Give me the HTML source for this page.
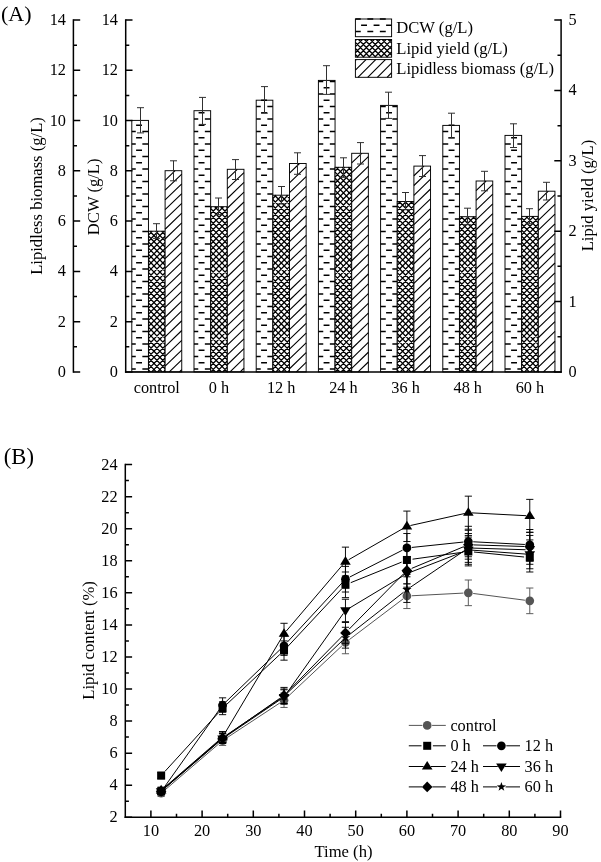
<!DOCTYPE html>
<html><head><meta charset="utf-8"><title>Figure</title>
<style>
html,body{margin:0;padding:0;background:#fff;}
svg{display:block;will-change:transform;}
text{font-family:"Liberation Serif",serif;font-size:16.3px;fill:#000;}
</style></head>
<body>
<svg width="601" height="862" viewBox="0 0 601 862">
<rect width="601" height="862" fill="#fff"/>
<g id="panelA">
<rect x="131.80" y="120.40" width="16.65" height="251.50" fill="#fff"/>
<path d="M136.10 125.23H142.00M136.10 137.73H142.00M136.10 150.23H142.00M136.10 162.73H142.00M136.10 175.23H142.00M136.10 187.73H142.00M136.10 200.23H142.00M136.10 212.73H142.00M136.10 225.23H142.00M136.10 237.73H142.00M136.10 250.23H142.00M136.10 262.73H142.00M136.10 275.23H142.00M136.10 287.73H142.00M136.10 300.23H142.00M136.10 312.73H142.00M136.10 325.23H142.00M136.10 337.73H142.00M136.10 350.23H142.00M136.10 362.73H142.00M131.80 131.43H135.75M142.35 131.43H148.25M131.80 143.93H135.75M142.35 143.93H148.25M131.80 156.43H135.75M142.35 156.43H148.25M131.80 168.93H135.75M142.35 168.93H148.25M131.80 181.43H135.75M142.35 181.43H148.25M131.80 193.93H135.75M142.35 193.93H148.25M131.80 206.43H135.75M142.35 206.43H148.25M131.80 218.93H135.75M142.35 218.93H148.25M131.80 231.43H135.75M142.35 231.43H148.25M131.80 243.93H135.75M142.35 243.93H148.25M131.80 256.43H135.75M142.35 256.43H148.25M131.80 268.93H135.75M142.35 268.93H148.25M131.80 281.43H135.75M142.35 281.43H148.25M131.80 293.93H135.75M142.35 293.93H148.25M131.80 306.43H135.75M142.35 306.43H148.25M131.80 318.93H135.75M142.35 318.93H148.25M131.80 331.43H135.75M142.35 331.43H148.25M131.80 343.93H135.75M142.35 343.93H148.25M131.80 356.43H135.75M142.35 356.43H148.25M131.80 368.93H135.75M142.35 368.93H148.25" stroke="#000" stroke-width="1.45" fill="none"/>
<rect x="131.80" y="120.40" width="16.65" height="251.50" fill="none" stroke="#000" stroke-width="0.95"/>
<rect x="148.45" y="231.20" width="16.65" height="140.70" fill="#fff"/>
<path d="M148.45 235.11L152.25 231.20M148.45 241.20L158.17 231.20M148.45 247.29L164.09 231.20M148.45 253.38L165.10 236.26M148.45 259.47L165.10 242.35M148.45 265.56L165.10 248.44M148.45 271.65L165.10 254.53M148.45 277.74L165.10 260.62M148.45 283.83L165.10 266.71M148.45 289.92L165.10 272.80M148.45 296.01L165.10 278.89M148.45 302.10L165.10 284.98M148.45 308.19L165.10 291.07M148.45 314.28L165.10 297.16M148.45 320.37L165.10 303.25M148.45 326.46L165.10 309.34M148.45 332.55L165.10 315.43M148.45 338.64L165.10 321.52M148.45 344.73L165.10 327.61M148.45 350.82L165.10 333.70M148.45 356.91L165.10 339.79M148.45 363.00L165.10 345.88M148.45 369.09L165.10 351.97M151.64 371.90L165.10 358.06M157.56 371.90L165.10 364.15M163.48 371.90L165.10 370.24M148.45 369.92L150.38 371.90M148.45 363.83L156.30 371.90M148.45 357.74L162.22 371.90M148.45 351.65L165.10 368.77M148.45 345.56L165.10 362.68M148.45 339.47L165.10 356.59M148.45 333.38L165.10 350.50M148.45 327.29L165.10 344.41M148.45 321.20L165.10 338.32M148.45 315.11L165.10 332.23M148.45 309.02L165.10 326.14M148.45 302.93L165.10 320.05M148.45 296.84L165.10 313.96M148.45 290.75L165.10 307.87M148.45 284.66L165.10 301.78M148.45 278.57L165.10 295.69M148.45 272.48L165.10 289.60M148.45 266.39L165.10 283.51M148.45 260.30L165.10 277.42M148.45 254.21L165.10 271.33M148.45 248.12L165.10 265.24M148.45 242.03L165.10 259.15M148.45 235.94L165.10 253.06M149.77 231.20L165.10 246.97M155.69 231.20L165.10 240.88M161.61 231.20L165.10 234.79" stroke="#000" stroke-width="1.3" fill="none"/>
<rect x="148.45" y="231.20" width="16.65" height="140.70" fill="none" stroke="#000" stroke-width="0.95"/>
<rect x="165.10" y="170.70" width="16.65" height="201.20" fill="#fff"/>
<path d="M165.10 180.33L175.08 170.70M165.10 190.11L181.75 174.04M165.10 199.89L181.75 183.82M165.10 209.67L181.75 193.60M165.10 219.45L181.75 203.38M165.10 229.23L181.75 213.16M165.10 239.01L181.75 222.94M165.10 248.79L181.75 232.72M165.10 258.57L181.75 242.50M165.10 268.35L181.75 252.28M165.10 278.13L181.75 262.06M165.10 287.91L181.75 271.84M165.10 297.69L181.75 281.62M165.10 307.47L181.75 291.40M165.10 317.25L181.75 301.18M165.10 327.03L181.75 310.96M165.10 336.81L181.75 320.74M165.10 346.59L181.75 330.52M165.10 356.37L181.75 340.30M165.10 366.15L181.75 350.08M169.28 371.90L181.75 359.86M179.41 371.90L181.75 369.64" stroke="#000" stroke-width="1.12" fill="none"/>
<rect x="165.10" y="170.70" width="16.65" height="201.20" fill="none" stroke="#000" stroke-width="0.95"/>
<path d="M140.50 107.70V132.90M137.00 107.70H144.00M137.00 132.90H144.00" stroke="#303030" stroke-width="1.0" fill="none"/>
<path d="M156.50 223.70V238.40M153.00 223.70H160.00M153.00 238.40H160.00" stroke="#303030" stroke-width="1.0" fill="none"/>
<path d="M173.50 160.80V180.80M170.00 160.80H177.00M170.00 180.80H177.00" stroke="#303030" stroke-width="1.0" fill="none"/>
<rect x="194.00" y="110.70" width="16.65" height="261.20" fill="#fff"/>
<path d="M198.60 112.73H204.50M198.60 125.23H204.50M198.60 137.73H204.50M198.60 150.23H204.50M198.60 162.73H204.50M198.60 175.23H204.50M198.60 187.73H204.50M198.60 200.23H204.50M198.60 212.73H204.50M198.60 225.23H204.50M198.60 237.73H204.50M198.60 250.23H204.50M198.60 262.73H204.50M198.60 275.23H204.50M198.60 287.73H204.50M198.60 300.23H204.50M198.60 312.73H204.50M198.60 325.23H204.50M198.60 337.73H204.50M198.60 350.23H204.50M198.60 362.73H204.50M194.00 118.93H198.25M204.85 118.93H210.65M194.00 131.43H198.25M204.85 131.43H210.65M194.00 143.93H198.25M204.85 143.93H210.65M194.00 156.43H198.25M204.85 156.43H210.65M194.00 168.93H198.25M204.85 168.93H210.65M194.00 181.43H198.25M204.85 181.43H210.65M194.00 193.93H198.25M204.85 193.93H210.65M194.00 206.43H198.25M204.85 206.43H210.65M194.00 218.93H198.25M204.85 218.93H210.65M194.00 231.43H198.25M204.85 231.43H210.65M194.00 243.93H198.25M204.85 243.93H210.65M194.00 256.43H198.25M204.85 256.43H210.65M194.00 268.93H198.25M204.85 268.93H210.65M194.00 281.43H198.25M204.85 281.43H210.65M194.00 293.93H198.25M204.85 293.93H210.65M194.00 306.43H198.25M204.85 306.43H210.65M194.00 318.93H198.25M204.85 318.93H210.65M194.00 331.43H198.25M204.85 331.43H210.65M194.00 343.93H198.25M204.85 343.93H210.65M194.00 356.43H198.25M204.85 356.43H210.65M194.00 368.93H198.25M204.85 368.93H210.65" stroke="#000" stroke-width="1.45" fill="none"/>
<rect x="194.00" y="110.70" width="16.65" height="261.20" fill="none" stroke="#000" stroke-width="0.95"/>
<rect x="210.65" y="206.70" width="16.65" height="165.20" fill="#fff"/>
<path d="M210.65 207.67L211.59 206.70M210.65 213.76L217.51 206.70M210.65 219.85L223.43 206.70M210.65 225.94L227.30 208.81M210.65 232.03L227.30 214.90M210.65 238.12L227.30 220.99M210.65 244.21L227.30 227.08M210.65 250.30L227.30 233.17M210.65 256.39L227.30 239.26M210.65 262.48L227.30 245.35M210.65 268.57L227.30 251.44M210.65 274.66L227.30 257.53M210.65 280.75L227.30 263.62M210.65 286.84L227.30 269.71M210.65 292.93L227.30 275.80M210.65 299.02L227.30 281.89M210.65 305.11L227.30 287.98M210.65 311.20L227.30 294.07M210.65 317.29L227.30 300.16M210.65 323.38L227.30 306.25M210.65 329.47L227.30 312.34M210.65 335.56L227.30 318.43M210.65 341.65L227.30 324.52M210.65 347.74L227.30 330.61M210.65 353.83L227.30 336.70M210.65 359.92L227.30 342.79M210.65 366.01L227.30 348.88M210.84 371.90L227.30 354.97M216.76 371.90L227.30 361.06M222.68 371.90L227.30 367.15M210.65 366.91L215.50 371.90M210.65 360.82L221.42 371.90M210.65 354.73L227.30 371.86M210.65 348.64L227.30 365.77M210.65 342.55L227.30 359.68M210.65 336.46L227.30 353.59M210.65 330.37L227.30 347.50M210.65 324.28L227.30 341.41M210.65 318.19L227.30 335.32M210.65 312.10L227.30 329.23M210.65 306.01L227.30 323.14M210.65 299.92L227.30 317.05M210.65 293.83L227.30 310.96M210.65 287.74L227.30 304.87M210.65 281.65L227.30 298.78M210.65 275.56L227.30 292.69M210.65 269.47L227.30 286.60M210.65 263.38L227.30 280.51M210.65 257.29L227.30 274.42M210.65 251.20L227.30 268.33M210.65 245.11L227.30 262.24M210.65 239.02L227.30 256.15M210.65 232.93L227.30 250.06M210.65 226.84L227.30 243.97M210.65 220.75L227.30 237.88M210.65 214.66L227.30 231.79M210.65 208.57L227.30 225.70M214.75 206.70L227.30 219.61M220.67 206.70L227.30 213.52M226.59 206.70L227.30 207.43" stroke="#000" stroke-width="1.3" fill="none"/>
<rect x="210.65" y="206.70" width="16.65" height="165.20" fill="none" stroke="#000" stroke-width="0.95"/>
<rect x="227.30" y="169.30" width="16.65" height="202.60" fill="#fff"/>
<path d="M227.30 178.93L237.28 169.30M227.30 188.71L243.95 172.64M227.30 198.49L243.95 182.42M227.30 208.27L243.95 192.20M227.30 218.05L243.95 201.98M227.30 227.83L243.95 211.76M227.30 237.61L243.95 221.54M227.30 247.39L243.95 231.32M227.30 257.17L243.95 241.10M227.30 266.95L243.95 250.88M227.30 276.73L243.95 260.66M227.30 286.51L243.95 270.44M227.30 296.29L243.95 280.22M227.30 306.07L243.95 290.00M227.30 315.85L243.95 299.78M227.30 325.63L243.95 309.56M227.30 335.41L243.95 319.34M227.30 345.19L243.95 329.12M227.30 354.97L243.95 338.90M227.30 364.75L243.95 348.68M230.03 371.90L243.95 358.46M240.16 371.90L243.95 368.24" stroke="#000" stroke-width="1.12" fill="none"/>
<rect x="227.30" y="169.30" width="16.65" height="202.60" fill="none" stroke="#000" stroke-width="0.95"/>
<path d="M202.50 97.40V124.40M199.00 97.40H206.00M199.00 124.40H206.00" stroke="#303030" stroke-width="1.0" fill="none"/>
<path d="M218.50 198.00V214.70M215.00 198.00H222.00M215.00 214.70H222.00" stroke="#303030" stroke-width="1.0" fill="none"/>
<path d="M235.50 159.60V179.50M232.00 159.60H239.00M232.00 179.50H239.00" stroke="#303030" stroke-width="1.0" fill="none"/>
<rect x="256.20" y="100.20" width="16.65" height="271.70" fill="#fff"/>
<path d="M261.10 100.23H267.00M261.10 112.73H267.00M261.10 125.23H267.00M261.10 137.73H267.00M261.10 150.23H267.00M261.10 162.73H267.00M261.10 175.23H267.00M261.10 187.73H267.00M261.10 200.23H267.00M261.10 212.73H267.00M261.10 225.23H267.00M261.10 237.73H267.00M261.10 250.23H267.00M261.10 262.73H267.00M261.10 275.23H267.00M261.10 287.73H267.00M261.10 300.23H267.00M261.10 312.73H267.00M261.10 325.23H267.00M261.10 337.73H267.00M261.10 350.23H267.00M261.10 362.73H267.00M256.20 106.43H260.75M267.35 106.43H272.85M256.20 118.93H260.75M267.35 118.93H272.85M256.20 131.43H260.75M267.35 131.43H272.85M256.20 143.93H260.75M267.35 143.93H272.85M256.20 156.43H260.75M267.35 156.43H272.85M256.20 168.93H260.75M267.35 168.93H272.85M256.20 181.43H260.75M267.35 181.43H272.85M256.20 193.93H260.75M267.35 193.93H272.85M256.20 206.43H260.75M267.35 206.43H272.85M256.20 218.93H260.75M267.35 218.93H272.85M256.20 231.43H260.75M267.35 231.43H272.85M256.20 243.93H260.75M267.35 243.93H272.85M256.20 256.43H260.75M267.35 256.43H272.85M256.20 268.93H260.75M267.35 268.93H272.85M256.20 281.43H260.75M267.35 281.43H272.85M256.20 293.93H260.75M267.35 293.93H272.85M256.20 306.43H260.75M267.35 306.43H272.85M256.20 318.93H260.75M267.35 318.93H272.85M256.20 331.43H260.75M267.35 331.43H272.85M256.20 343.93H260.75M267.35 343.93H272.85M256.20 356.43H260.75M267.35 356.43H272.85M256.20 368.93H260.75M267.35 368.93H272.85" stroke="#000" stroke-width="1.45" fill="none"/>
<rect x="256.20" y="100.20" width="16.65" height="271.70" fill="none" stroke="#000" stroke-width="0.95"/>
<rect x="272.85" y="195.20" width="16.65" height="176.70" fill="#fff"/>
<path d="M272.85 198.49L276.05 195.20M272.85 204.58L281.97 195.20M272.85 210.67L287.89 195.20M272.85 216.76L289.50 199.63M272.85 222.85L289.50 205.72M272.85 228.94L289.50 211.81M272.85 235.03L289.50 217.90M272.85 241.12L289.50 223.99M272.85 247.21L289.50 230.08M272.85 253.30L289.50 236.17M272.85 259.39L289.50 242.26M272.85 265.48L289.50 248.35M272.85 271.57L289.50 254.44M272.85 277.66L289.50 260.53M272.85 283.75L289.50 266.62M272.85 289.84L289.50 272.71M272.85 295.93L289.50 278.80M272.85 302.02L289.50 284.89M272.85 308.11L289.50 290.98M272.85 314.20L289.50 297.07M272.85 320.29L289.50 303.16M272.85 326.38L289.50 309.25M272.85 332.47L289.50 315.34M272.85 338.56L289.50 321.43M272.85 344.65L289.50 327.52M272.85 350.74L289.50 333.61M272.85 356.83L289.50 339.70M272.85 362.92L289.50 345.79M272.85 369.01L289.50 351.88M275.96 371.90L289.50 357.97M281.88 371.90L289.50 364.06M287.80 371.90L289.50 370.15M272.85 370.00L274.70 371.90M272.85 363.91L280.62 371.90M272.85 357.82L286.54 371.90M272.85 351.73L289.50 368.86M272.85 345.64L289.50 362.77M272.85 339.55L289.50 356.68M272.85 333.46L289.50 350.59M272.85 327.37L289.50 344.50M272.85 321.28L289.50 338.41M272.85 315.19L289.50 332.32M272.85 309.10L289.50 326.23M272.85 303.01L289.50 320.14M272.85 296.92L289.50 314.05M272.85 290.83L289.50 307.96M272.85 284.74L289.50 301.87M272.85 278.65L289.50 295.78M272.85 272.56L289.50 289.69M272.85 266.47L289.50 283.60M272.85 260.38L289.50 277.51M272.85 254.29L289.50 271.42M272.85 248.20L289.50 265.33M272.85 242.11L289.50 259.24M272.85 236.02L289.50 253.15M272.85 229.93L289.50 247.06M272.85 223.84L289.50 240.97M272.85 217.75L289.50 234.88M272.85 211.66L289.50 228.79M272.85 205.57L289.50 222.70M272.85 199.48L289.50 216.61M274.61 195.20L289.50 210.52M280.53 195.20L289.50 204.43M286.45 195.20L289.50 198.34" stroke="#000" stroke-width="1.3" fill="none"/>
<rect x="272.85" y="195.20" width="16.65" height="176.70" fill="none" stroke="#000" stroke-width="0.95"/>
<rect x="289.50" y="163.50" width="16.65" height="208.40" fill="#fff"/>
<path d="M289.50 173.13L299.48 163.50M289.50 182.91L306.15 166.84M289.50 192.69L306.15 176.62M289.50 202.47L306.15 186.40M289.50 212.25L306.15 196.18M289.50 222.03L306.15 205.96M289.50 231.81L306.15 215.74M289.50 241.59L306.15 225.52M289.50 251.37L306.15 235.30M289.50 261.15L306.15 245.08M289.50 270.93L306.15 254.86M289.50 280.71L306.15 264.64M289.50 290.49L306.15 274.42M289.50 300.27L306.15 284.20M289.50 310.05L306.15 293.98M289.50 319.83L306.15 303.76M289.50 329.61L306.15 313.54M289.50 339.39L306.15 323.32M289.50 349.17L306.15 333.10M289.50 358.95L306.15 342.88M289.50 368.73L306.15 352.66M296.35 371.90L306.15 362.44" stroke="#000" stroke-width="1.12" fill="none"/>
<rect x="289.50" y="163.50" width="16.65" height="208.40" fill="none" stroke="#000" stroke-width="0.95"/>
<path d="M264.50 86.60V113.10M261.00 86.60H268.00M261.00 113.10H268.00" stroke="#303030" stroke-width="1.0" fill="none"/>
<path d="M281.50 186.50V204.00M278.00 186.50H285.00M278.00 204.00H285.00" stroke="#303030" stroke-width="1.0" fill="none"/>
<path d="M297.50 152.80V174.30M294.00 152.80H301.00M294.00 174.30H301.00" stroke="#303030" stroke-width="1.0" fill="none"/>
<rect x="318.40" y="80.40" width="16.65" height="291.50" fill="#fff"/>
<path d="M323.60 87.73H329.50M323.60 100.23H329.50M323.60 112.73H329.50M323.60 125.23H329.50M323.60 137.73H329.50M323.60 150.23H329.50M323.60 162.73H329.50M323.60 175.23H329.50M323.60 187.73H329.50M323.60 200.23H329.50M323.60 212.73H329.50M323.60 225.23H329.50M323.60 237.73H329.50M323.60 250.23H329.50M323.60 262.73H329.50M323.60 275.23H329.50M323.60 287.73H329.50M323.60 300.23H329.50M323.60 312.73H329.50M323.60 325.23H329.50M323.60 337.73H329.50M323.60 350.23H329.50M323.60 362.73H329.50M318.40 81.43H323.25M329.85 81.43H335.05M318.40 93.93H323.25M329.85 93.93H335.05M318.40 106.43H323.25M329.85 106.43H335.05M318.40 118.93H323.25M329.85 118.93H335.05M318.40 131.43H323.25M329.85 131.43H335.05M318.40 143.93H323.25M329.85 143.93H335.05M318.40 156.43H323.25M329.85 156.43H335.05M318.40 168.93H323.25M329.85 168.93H335.05M318.40 181.43H323.25M329.85 181.43H335.05M318.40 193.93H323.25M329.85 193.93H335.05M318.40 206.43H323.25M329.85 206.43H335.05M318.40 218.93H323.25M329.85 218.93H335.05M318.40 231.43H323.25M329.85 231.43H335.05M318.40 243.93H323.25M329.85 243.93H335.05M318.40 256.43H323.25M329.85 256.43H335.05M318.40 268.93H323.25M329.85 268.93H335.05M318.40 281.43H323.25M329.85 281.43H335.05M318.40 293.93H323.25M329.85 293.93H335.05M318.40 306.43H323.25M329.85 306.43H335.05M318.40 318.93H323.25M329.85 318.93H335.05M318.40 331.43H323.25M329.85 331.43H335.05M318.40 343.93H323.25M329.85 343.93H335.05M318.40 356.43H323.25M329.85 356.43H335.05M318.40 368.93H323.25M329.85 368.93H335.05" stroke="#000" stroke-width="1.45" fill="none"/>
<rect x="318.40" y="80.40" width="16.65" height="291.50" fill="none" stroke="#000" stroke-width="0.95"/>
<rect x="335.05" y="167.30" width="16.65" height="204.60" fill="#fff"/>
<path d="M335.05 171.05L338.69 167.30M335.05 177.14L344.61 167.30M335.05 183.23L350.53 167.30M335.05 189.32L351.70 172.19M335.05 195.41L351.70 178.28M335.05 201.50L351.70 184.37M335.05 207.59L351.70 190.46M335.05 213.68L351.70 196.55M335.05 219.77L351.70 202.64M335.05 225.86L351.70 208.73M335.05 231.95L351.70 214.82M335.05 238.04L351.70 220.91M335.05 244.13L351.70 227.00M335.05 250.22L351.70 233.09M335.05 256.31L351.70 239.18M335.05 262.40L351.70 245.27M335.05 268.49L351.70 251.36M335.05 274.58L351.70 257.45M335.05 280.67L351.70 263.54M335.05 286.76L351.70 269.63M335.05 292.85L351.70 275.72M335.05 298.94L351.70 281.81M335.05 305.03L351.70 287.90M335.05 311.12L351.70 293.99M335.05 317.21L351.70 300.08M335.05 323.30L351.70 306.17M335.05 329.39L351.70 312.26M335.05 335.48L351.70 318.35M335.05 341.57L351.70 324.44M335.05 347.66L351.70 330.53M335.05 353.75L351.70 336.62M335.05 359.84L351.70 342.71M335.05 365.93L351.70 348.80M335.16 371.90L351.70 354.89M341.08 371.90L351.70 360.98M347.00 371.90L351.70 367.07M335.05 366.99L339.82 371.90M335.05 360.90L345.74 371.90M335.05 354.81L351.66 371.90M335.05 348.72L351.70 365.85M335.05 342.63L351.70 359.76M335.05 336.54L351.70 353.67M335.05 330.45L351.70 347.58M335.05 324.36L351.70 341.49M335.05 318.27L351.70 335.40M335.05 312.18L351.70 329.31M335.05 306.09L351.70 323.22M335.05 300.00L351.70 317.13M335.05 293.91L351.70 311.04M335.05 287.82L351.70 304.95M335.05 281.73L351.70 298.86M335.05 275.64L351.70 292.77M335.05 269.55L351.70 286.68M335.05 263.46L351.70 280.59M335.05 257.37L351.70 274.50M335.05 251.28L351.70 268.41M335.05 245.19L351.70 262.32M335.05 239.10L351.70 256.23M335.05 233.01L351.70 250.14M335.05 226.92L351.70 244.05M335.05 220.83L351.70 237.96M335.05 214.74L351.70 231.87M335.05 208.65L351.70 225.78M335.05 202.56L351.70 219.69M335.05 196.47L351.70 213.60M335.05 190.38L351.70 207.51M335.05 184.29L351.70 201.42M335.05 178.20L351.70 195.33M335.05 172.11L351.70 189.24M336.29 167.30L351.70 183.15M342.21 167.30L351.70 177.06M348.13 167.30L351.70 170.97" stroke="#000" stroke-width="1.3" fill="none"/>
<rect x="335.05" y="167.30" width="16.65" height="204.60" fill="none" stroke="#000" stroke-width="0.95"/>
<rect x="351.70" y="153.30" width="16.65" height="218.60" fill="#fff"/>
<path d="M351.70 162.93L361.68 153.30M351.70 172.71L368.35 156.64M351.70 182.49L368.35 166.42M351.70 192.27L368.35 176.20M351.70 202.05L368.35 185.98M351.70 211.83L368.35 195.76M351.70 221.61L368.35 205.54M351.70 231.39L368.35 215.32M351.70 241.17L368.35 225.10M351.70 250.95L368.35 234.88M351.70 260.73L368.35 244.66M351.70 270.51L368.35 254.44M351.70 280.29L368.35 264.22M351.70 290.07L368.35 274.00M351.70 299.85L368.35 283.78M351.70 309.63L368.35 293.56M351.70 319.41L368.35 303.34M351.70 329.19L368.35 313.12M351.70 338.97L368.35 322.90M351.70 348.75L368.35 332.68M351.70 358.53L368.35 342.46M351.70 368.31L368.35 352.24M358.11 371.90L368.35 362.02" stroke="#000" stroke-width="1.12" fill="none"/>
<rect x="351.70" y="153.30" width="16.65" height="218.60" fill="none" stroke="#000" stroke-width="0.95"/>
<path d="M326.50 65.70V94.40M323.00 65.70H330.00M323.00 94.40H330.00" stroke="#303030" stroke-width="1.0" fill="none"/>
<path d="M343.50 157.80V177.30M340.00 157.80H347.00M340.00 177.30H347.00" stroke="#303030" stroke-width="1.0" fill="none"/>
<path d="M360.50 142.60V164.00M357.00 142.60H364.00M357.00 164.00H364.00" stroke="#303030" stroke-width="1.0" fill="none"/>
<rect x="380.60" y="105.40" width="16.65" height="266.50" fill="#fff"/>
<path d="M386.10 112.73H392.00M386.10 125.23H392.00M386.10 137.73H392.00M386.10 150.23H392.00M386.10 162.73H392.00M386.10 175.23H392.00M386.10 187.73H392.00M386.10 200.23H392.00M386.10 212.73H392.00M386.10 225.23H392.00M386.10 237.73H392.00M386.10 250.23H392.00M386.10 262.73H392.00M386.10 275.23H392.00M386.10 287.73H392.00M386.10 300.23H392.00M386.10 312.73H392.00M386.10 325.23H392.00M386.10 337.73H392.00M386.10 350.23H392.00M386.10 362.73H392.00M380.60 106.43H385.75M392.35 106.43H397.25M380.60 118.93H385.75M392.35 118.93H397.25M380.60 131.43H385.75M392.35 131.43H397.25M380.60 143.93H385.75M392.35 143.93H397.25M380.60 156.43H385.75M392.35 156.43H397.25M380.60 168.93H385.75M392.35 168.93H397.25M380.60 181.43H385.75M392.35 181.43H397.25M380.60 193.93H385.75M392.35 193.93H397.25M380.60 206.43H385.75M392.35 206.43H397.25M380.60 218.93H385.75M392.35 218.93H397.25M380.60 231.43H385.75M392.35 231.43H397.25M380.60 243.93H385.75M392.35 243.93H397.25M380.60 256.43H385.75M392.35 256.43H397.25M380.60 268.93H385.75M392.35 268.93H397.25M380.60 281.43H385.75M392.35 281.43H397.25M380.60 293.93H385.75M392.35 293.93H397.25M380.60 306.43H385.75M392.35 306.43H397.25M380.60 318.93H385.75M392.35 318.93H397.25M380.60 331.43H385.75M392.35 331.43H397.25M380.60 343.93H385.75M392.35 343.93H397.25M380.60 356.43H385.75M392.35 356.43H397.25M380.60 368.93H385.75M392.35 368.93H397.25" stroke="#000" stroke-width="1.45" fill="none"/>
<rect x="380.60" y="105.40" width="16.65" height="266.50" fill="none" stroke="#000" stroke-width="0.95"/>
<rect x="397.25" y="201.50" width="16.65" height="170.40" fill="#fff"/>
<path d="M397.25 204.50L400.17 201.50M397.25 210.59L406.09 201.50M397.25 216.68L412.01 201.50M397.25 222.77L413.90 205.64M397.25 228.86L413.90 211.73M397.25 234.95L413.90 217.82M397.25 241.04L413.90 223.91M397.25 247.13L413.90 230.00M397.25 253.22L413.90 236.09M397.25 259.31L413.90 242.18M397.25 265.40L413.90 248.27M397.25 271.49L413.90 254.36M397.25 277.58L413.90 260.45M397.25 283.67L413.90 266.54M397.25 289.76L413.90 272.63M397.25 295.85L413.90 278.72M397.25 301.94L413.90 284.81M397.25 308.03L413.90 290.90M397.25 314.12L413.90 296.99M397.25 320.21L413.90 303.08M397.25 326.30L413.90 309.17M397.25 332.39L413.90 315.26M397.25 338.48L413.90 321.35M397.25 344.57L413.90 327.44M397.25 350.66L413.90 333.53M397.25 356.75L413.90 339.62M397.25 362.84L413.90 345.71M397.25 368.93L413.90 351.80M400.28 371.90L413.90 357.89M406.20 371.90L413.90 363.98M412.12 371.90L413.90 370.07M397.25 370.08L399.02 371.90M397.25 363.99L404.94 371.90M397.25 357.90L410.86 371.90M397.25 351.81L413.90 368.94M397.25 345.72L413.90 362.85M397.25 339.63L413.90 356.76M397.25 333.54L413.90 350.67M397.25 327.45L413.90 344.58M397.25 321.36L413.90 338.49M397.25 315.27L413.90 332.40M397.25 309.18L413.90 326.31M397.25 303.09L413.90 320.22M397.25 297.00L413.90 314.13M397.25 290.91L413.90 308.04M397.25 284.82L413.90 301.95M397.25 278.73L413.90 295.86M397.25 272.64L413.90 289.77M397.25 266.55L413.90 283.68M397.25 260.46L413.90 277.59M397.25 254.37L413.90 271.50M397.25 248.28L413.90 265.41M397.25 242.19L413.90 259.32M397.25 236.10L413.90 253.23M397.25 230.01L413.90 247.14M397.25 223.92L413.90 241.05M397.25 217.83L413.90 234.96M397.25 211.74L413.90 228.87M397.25 205.65L413.90 222.78M399.13 201.50L413.90 216.69M405.05 201.50L413.90 210.60M410.97 201.50L413.90 204.51" stroke="#000" stroke-width="1.3" fill="none"/>
<rect x="397.25" y="201.50" width="16.65" height="170.40" fill="none" stroke="#000" stroke-width="0.95"/>
<rect x="413.90" y="166.10" width="16.65" height="205.80" fill="#fff"/>
<path d="M413.90 175.73L423.88 166.10M413.90 185.51L430.55 169.44M413.90 195.29L430.55 179.22M413.90 205.07L430.55 189.00M413.90 214.85L430.55 198.78M413.90 224.63L430.55 208.56M413.90 234.41L430.55 218.34M413.90 244.19L430.55 228.12M413.90 253.97L430.55 237.90M413.90 263.75L430.55 247.68M413.90 273.53L430.55 257.46M413.90 283.31L430.55 267.24M413.90 293.09L430.55 277.02M413.90 302.87L430.55 286.80M413.90 312.65L430.55 296.58M413.90 322.43L430.55 306.36M413.90 332.21L430.55 316.14M413.90 341.99L430.55 325.92M413.90 351.77L430.55 335.70M413.90 361.55L430.55 345.48M413.90 371.33L430.55 355.26M423.44 371.90L430.55 365.04" stroke="#000" stroke-width="1.12" fill="none"/>
<rect x="413.90" y="166.10" width="16.65" height="205.80" fill="none" stroke="#000" stroke-width="0.95"/>
<path d="M388.50 92.20V118.40M385.00 92.20H392.00M385.00 118.40H392.00" stroke="#303030" stroke-width="1.0" fill="none"/>
<path d="M405.50 192.50V209.70M402.00 192.50H409.00M402.00 209.70H409.00" stroke="#303030" stroke-width="1.0" fill="none"/>
<path d="M422.50 155.60V176.50M419.00 155.60H426.00M419.00 176.50H426.00" stroke="#303030" stroke-width="1.0" fill="none"/>
<rect x="442.80" y="125.40" width="16.65" height="246.50" fill="#fff"/>
<path d="M448.60 125.23H454.50M448.60 137.73H454.50M448.60 150.23H454.50M448.60 162.73H454.50M448.60 175.23H454.50M448.60 187.73H454.50M448.60 200.23H454.50M448.60 212.73H454.50M448.60 225.23H454.50M448.60 237.73H454.50M448.60 250.23H454.50M448.60 262.73H454.50M448.60 275.23H454.50M448.60 287.73H454.50M448.60 300.23H454.50M448.60 312.73H454.50M448.60 325.23H454.50M448.60 337.73H454.50M448.60 350.23H454.50M448.60 362.73H454.50M442.80 131.43H448.25M454.85 131.43H459.45M442.80 143.93H448.25M454.85 143.93H459.45M442.80 156.43H448.25M454.85 156.43H459.45M442.80 168.93H448.25M454.85 168.93H459.45M442.80 181.43H448.25M454.85 181.43H459.45M442.80 193.93H448.25M454.85 193.93H459.45M442.80 206.43H448.25M454.85 206.43H459.45M442.80 218.93H448.25M454.85 218.93H459.45M442.80 231.43H448.25M454.85 231.43H459.45M442.80 243.93H448.25M454.85 243.93H459.45M442.80 256.43H448.25M454.85 256.43H459.45M442.80 268.93H448.25M454.85 268.93H459.45M442.80 281.43H448.25M454.85 281.43H459.45M442.80 293.93H448.25M454.85 293.93H459.45M442.80 306.43H448.25M454.85 306.43H459.45M442.80 318.93H448.25M454.85 318.93H459.45M442.80 331.43H448.25M454.85 331.43H459.45M442.80 343.93H448.25M454.85 343.93H459.45M442.80 356.43H448.25M454.85 356.43H459.45M442.80 368.93H448.25M454.85 368.93H459.45" stroke="#000" stroke-width="1.45" fill="none"/>
<rect x="442.80" y="125.40" width="16.65" height="246.50" fill="none" stroke="#000" stroke-width="0.95"/>
<rect x="459.45" y="216.70" width="16.65" height="155.20" fill="#fff"/>
<path d="M459.45 219.68L462.35 216.70M459.45 225.77L468.27 216.70M459.45 231.86L474.19 216.70M459.45 237.95L476.10 220.82M459.45 244.04L476.10 226.91M459.45 250.13L476.10 233.00M459.45 256.22L476.10 239.09M459.45 262.31L476.10 245.18M459.45 268.40L476.10 251.27M459.45 274.49L476.10 257.36M459.45 280.58L476.10 263.45M459.45 286.67L476.10 269.54M459.45 292.76L476.10 275.63M459.45 298.85L476.10 281.72M459.45 304.94L476.10 287.81M459.45 311.03L476.10 293.90M459.45 317.12L476.10 299.99M459.45 323.21L476.10 306.08M459.45 329.30L476.10 312.17M459.45 335.39L476.10 318.26M459.45 341.48L476.10 324.35M459.45 347.57L476.10 330.44M459.45 353.66L476.10 336.53M459.45 359.75L476.10 342.62M459.45 365.84L476.10 348.71M459.48 371.90L476.10 354.80M465.40 371.90L476.10 360.89M471.32 371.90L476.10 366.98M459.45 367.08L464.14 371.90M459.45 360.99L470.06 371.90M459.45 354.90L475.98 371.90M459.45 348.81L476.10 365.94M459.45 342.72L476.10 359.85M459.45 336.63L476.10 353.76M459.45 330.54L476.10 347.67M459.45 324.45L476.10 341.58M459.45 318.36L476.10 335.49M459.45 312.27L476.10 329.40M459.45 306.18L476.10 323.31M459.45 300.09L476.10 317.22M459.45 294.00L476.10 311.13M459.45 287.91L476.10 305.04M459.45 281.82L476.10 298.95M459.45 275.73L476.10 292.86M459.45 269.64L476.10 286.77M459.45 263.55L476.10 280.68M459.45 257.46L476.10 274.59M459.45 251.37L476.10 268.50M459.45 245.28L476.10 262.41M459.45 239.19L476.10 256.32M459.45 233.10L476.10 250.23M459.45 227.01L476.10 244.14M459.45 220.92L476.10 238.05M461.27 216.70L476.10 231.96M467.19 216.70L476.10 225.87M473.11 216.70L476.10 219.78" stroke="#000" stroke-width="1.3" fill="none"/>
<rect x="459.45" y="216.70" width="16.65" height="155.20" fill="none" stroke="#000" stroke-width="0.95"/>
<rect x="476.10" y="181.00" width="16.65" height="190.90" fill="#fff"/>
<path d="M476.10 190.63L486.08 181.00M476.10 200.41L492.75 184.34M476.10 210.19L492.75 194.12M476.10 219.97L492.75 203.90M476.10 229.75L492.75 213.68M476.10 239.53L492.75 223.46M476.10 249.31L492.75 233.24M476.10 259.09L492.75 243.02M476.10 268.87L492.75 252.80M476.10 278.65L492.75 262.58M476.10 288.43L492.75 272.36M476.10 298.21L492.75 282.14M476.10 307.99L492.75 291.92M476.10 317.77L492.75 301.70M476.10 327.55L492.75 311.48M476.10 337.33L492.75 321.26M476.10 347.11L492.75 331.04M476.10 356.89L492.75 340.82M476.10 366.67L492.75 350.60M480.82 371.90L492.75 360.38M490.95 371.90L492.75 370.16" stroke="#000" stroke-width="1.12" fill="none"/>
<rect x="476.10" y="181.00" width="16.65" height="190.90" fill="none" stroke="#000" stroke-width="0.95"/>
<path d="M451.50 113.20V137.90M448.00 113.20H455.00M448.00 137.90H455.00" stroke="#303030" stroke-width="1.0" fill="none"/>
<path d="M467.50 208.20V224.70M464.00 208.20H471.00M464.00 224.70H471.00" stroke="#303030" stroke-width="1.0" fill="none"/>
<path d="M484.50 171.30V190.80M481.00 171.30H488.00M481.00 190.80H488.00" stroke="#303030" stroke-width="1.0" fill="none"/>
<rect x="505.00" y="135.40" width="16.65" height="236.50" fill="#fff"/>
<path d="M511.10 137.73H517.00M511.10 150.23H517.00M511.10 162.73H517.00M511.10 175.23H517.00M511.10 187.73H517.00M511.10 200.23H517.00M511.10 212.73H517.00M511.10 225.23H517.00M511.10 237.73H517.00M511.10 250.23H517.00M511.10 262.73H517.00M511.10 275.23H517.00M511.10 287.73H517.00M511.10 300.23H517.00M511.10 312.73H517.00M511.10 325.23H517.00M511.10 337.73H517.00M511.10 350.23H517.00M511.10 362.73H517.00M505.00 143.93H510.75M517.35 143.93H521.65M505.00 156.43H510.75M517.35 156.43H521.65M505.00 168.93H510.75M517.35 168.93H521.65M505.00 181.43H510.75M517.35 181.43H521.65M505.00 193.93H510.75M517.35 193.93H521.65M505.00 206.43H510.75M517.35 206.43H521.65M505.00 218.93H510.75M517.35 218.93H521.65M505.00 231.43H510.75M517.35 231.43H521.65M505.00 243.93H510.75M517.35 243.93H521.65M505.00 256.43H510.75M517.35 256.43H521.65M505.00 268.93H510.75M517.35 268.93H521.65M505.00 281.43H510.75M517.35 281.43H521.65M505.00 293.93H510.75M517.35 293.93H521.65M505.00 306.43H510.75M517.35 306.43H521.65M505.00 318.93H510.75M517.35 318.93H521.65M505.00 331.43H510.75M517.35 331.43H521.65M505.00 343.93H510.75M517.35 343.93H521.65M505.00 356.43H510.75M517.35 356.43H521.65M505.00 368.93H510.75M517.35 368.93H521.65" stroke="#000" stroke-width="1.45" fill="none"/>
<rect x="505.00" y="135.40" width="16.65" height="236.50" fill="none" stroke="#000" stroke-width="0.95"/>
<rect x="521.65" y="216.40" width="16.65" height="155.50" fill="#fff"/>
<path d="M521.65 216.60L521.84 216.40M521.65 222.69L527.76 216.40M521.65 228.78L533.68 216.40M521.65 234.87L538.30 217.74M521.65 240.96L538.30 223.83M521.65 247.05L538.30 229.92M521.65 253.14L538.30 236.01M521.65 259.23L538.30 242.10M521.65 265.32L538.30 248.19M521.65 271.41L538.30 254.28M521.65 277.50L538.30 260.37M521.65 283.59L538.30 266.46M521.65 289.68L538.30 272.55M521.65 295.77L538.30 278.64M521.65 301.86L538.30 284.73M521.65 307.95L538.30 290.82M521.65 314.04L538.30 296.91M521.65 320.13L538.30 303.00M521.65 326.22L538.30 309.09M521.65 332.31L538.30 315.18M521.65 338.40L538.30 321.27M521.65 344.49L538.30 327.36M521.65 350.58L538.30 333.45M521.65 356.67L538.30 339.54M521.65 362.76L538.30 345.63M521.65 368.85L538.30 351.72M524.60 371.90L538.30 357.81M530.52 371.90L538.30 363.90M536.44 371.90L538.30 369.99M521.65 370.16L523.34 371.90M521.65 364.07L529.26 371.90M521.65 357.98L535.18 371.90M521.65 351.89L538.30 369.02M521.65 345.80L538.30 362.93M521.65 339.71L538.30 356.84M521.65 333.62L538.30 350.75M521.65 327.53L538.30 344.66M521.65 321.44L538.30 338.57M521.65 315.35L538.30 332.48M521.65 309.26L538.30 326.39M521.65 303.17L538.30 320.30M521.65 297.08L538.30 314.21M521.65 290.99L538.30 308.12M521.65 284.90L538.30 302.03M521.65 278.81L538.30 295.94M521.65 272.72L538.30 289.85M521.65 266.63L538.30 283.76M521.65 260.54L538.30 277.67M521.65 254.45L538.30 271.58M521.65 248.36L538.30 265.49M521.65 242.27L538.30 259.40M521.65 236.18L538.30 253.31M521.65 230.09L538.30 247.22M521.65 224.00L538.30 241.13M521.65 217.91L538.30 235.04M526.10 216.40L538.30 228.95M532.02 216.40L538.30 222.86M537.94 216.40L538.30 216.77" stroke="#000" stroke-width="1.3" fill="none"/>
<rect x="521.65" y="216.40" width="16.65" height="155.50" fill="none" stroke="#000" stroke-width="0.95"/>
<rect x="538.30" y="191.20" width="16.65" height="180.70" fill="#fff"/>
<path d="M538.30 200.83L548.28 191.20M538.30 210.61L554.95 194.54M538.30 220.39L554.95 204.32M538.30 230.17L554.95 214.10M538.30 239.95L554.95 223.88M538.30 249.73L554.95 233.66M538.30 259.51L554.95 243.44M538.30 269.29L554.95 253.22M538.30 279.07L554.95 263.00M538.30 288.85L554.95 272.78M538.30 298.63L554.95 282.56M538.30 308.41L554.95 292.34M538.30 318.19L554.95 302.12M538.30 327.97L554.95 311.90M538.30 337.75L554.95 321.68M538.30 347.53L554.95 331.46M538.30 357.31L554.95 341.24M538.30 367.09L554.95 351.02M543.45 371.90L554.95 360.80M553.58 371.90L554.95 370.58" stroke="#000" stroke-width="1.12" fill="none"/>
<rect x="538.30" y="191.20" width="16.65" height="180.70" fill="none" stroke="#000" stroke-width="0.95"/>
<path d="M513.50 123.80V147.50M510.00 123.80H517.00M510.00 147.50H517.00" stroke="#303030" stroke-width="1.0" fill="none"/>
<path d="M529.50 208.70V223.80M526.00 208.70H533.00M526.00 223.80H533.00" stroke="#303030" stroke-width="1.0" fill="none"/>
<path d="M546.50 182.30V200.00M543.00 182.30H550.00M543.00 200.00H550.00" stroke="#303030" stroke-width="1.0" fill="none"/>
<path d="M73.40 19.33V372.65" stroke="#000" stroke-width="1.5"/>
<path d="M73.40 371.90h6.80M73.40 321.64h6.80M73.40 271.38h6.80M73.40 221.12h6.80M73.40 170.86h6.80M73.40 120.60h6.80M73.40 70.34h6.80M73.40 20.08h6.80M73.40 346.77h3.60M73.40 296.51h3.60M73.40 246.25h3.60M73.40 195.99h3.60M73.40 145.73h3.60M73.40 95.47h3.60M73.40 45.21h3.60" stroke="#000" stroke-width="1.5" fill="none"/>
<text x="66.00" y="376.90" text-anchor="end">0</text>
<text x="66.00" y="326.64" text-anchor="end">2</text>
<text x="66.00" y="276.38" text-anchor="end">4</text>
<text x="66.00" y="226.12" text-anchor="end">6</text>
<text x="66.00" y="175.86" text-anchor="end">8</text>
<text x="66.00" y="125.60" text-anchor="end">10</text>
<text x="66.00" y="75.34" text-anchor="end">12</text>
<text x="66.00" y="25.08" text-anchor="end">14</text>
<path d="M125.70 19.33V372.65" stroke="#000" stroke-width="1.5"/>
<path d="M125.70 371.90h6.80M125.70 321.64h6.80M125.70 271.38h6.80M125.70 221.12h6.80M125.70 170.86h6.80M125.70 120.60h6.80M125.70 70.34h6.80M125.70 20.08h6.80M125.70 346.77h3.60M125.70 296.51h3.60M125.70 246.25h3.60M125.70 195.99h3.60M125.70 145.73h3.60M125.70 95.47h3.60M125.70 45.21h3.60" stroke="#000" stroke-width="1.5" fill="none"/>
<text x="118.00" y="376.90" text-anchor="end">0</text>
<text x="118.00" y="326.64" text-anchor="end">2</text>
<text x="118.00" y="276.38" text-anchor="end">4</text>
<text x="118.00" y="226.12" text-anchor="end">6</text>
<text x="118.00" y="175.86" text-anchor="end">8</text>
<text x="118.00" y="125.60" text-anchor="end">10</text>
<text x="118.00" y="75.34" text-anchor="end">12</text>
<text x="118.00" y="25.08" text-anchor="end">14</text>
<path d="M561.10 19.33V372.65" stroke="#000" stroke-width="1.5"/>
<path d="M561.10 371.90h-6.80M561.10 301.54h-6.80M561.10 231.17h-6.80M561.10 160.81h-6.80M561.10 90.44h-6.80M561.10 20.08h-6.80M561.10 336.72h-3.60M561.10 266.35h-3.60M561.10 195.99h-3.60M561.10 125.63h-3.60M561.10 55.26h-3.60" stroke="#000" stroke-width="1.5" fill="none"/>
<text x="568.60" y="376.90" text-anchor="start">0</text>
<text x="568.60" y="306.54" text-anchor="start">1</text>
<text x="568.60" y="236.17" text-anchor="start">2</text>
<text x="568.60" y="165.81" text-anchor="start">3</text>
<text x="568.60" y="95.44" text-anchor="start">4</text>
<text x="568.60" y="25.08" text-anchor="start">5</text>
<path d="M124.95 371.90H561.85" stroke="#000" stroke-width="1.5"/>
<text x="156.78" y="392.7" text-anchor="middle">control</text>
<text x="218.97" y="392.7" text-anchor="middle">0 h</text>
<text x="281.18" y="392.7" text-anchor="middle">12 h</text>
<text x="343.38" y="392.7" text-anchor="middle">24 h</text>
<text x="405.58" y="392.7" text-anchor="middle">36 h</text>
<text x="467.78" y="392.7" text-anchor="middle">48 h</text>
<text x="529.98" y="392.7" text-anchor="middle">60 h</text>
<text transform="translate(42.00 196.00) rotate(-90)" text-anchor="middle" style="font-size:16.6px">Lipidless biomass (g/L)</text>
<text transform="translate(98.80 196.80) rotate(-90)" text-anchor="middle" style="font-size:16.6px">DCW (g/L)</text>
<text transform="translate(593.40 195.60) rotate(-90)" text-anchor="middle" style="font-size:16.6px">Lipid yield (g/L)</text>
<rect x="355.40" y="19.00" width="36.20" height="17.70" fill="#fff"/>
<path d="M361.10 25.23H367.00M373.60 25.23H379.50M386.10 25.23H391.60M355.40 18.93H360.75M367.35 18.93H373.25M379.85 18.93H385.75M355.40 31.43H360.75M367.35 31.43H373.25M379.85 31.43H385.75" stroke="#000" stroke-width="1.45" fill="none"/>
<rect x="355.40" y="19.00" width="36.20" height="17.70" fill="none" stroke="#000" stroke-width="0.95"/>
<text x="396.3" y="33.00" style="font-size:16.6px">DCW (g/L)</text>
<rect x="355.40" y="39.50" width="36.20" height="17.70" fill="#fff"/>
<path d="M355.40 40.56L356.43 39.50M355.40 46.65L362.35 39.50M355.40 52.74L368.27 39.50M356.98 57.20L374.19 39.50M362.90 57.20L380.11 39.50M368.82 57.20L386.03 39.50M374.74 57.20L391.60 39.86M380.66 57.20L391.60 45.95M386.58 57.20L391.60 52.04M355.40 54.52L358.00 57.20M355.40 48.43L363.92 57.20M355.40 42.34L369.84 57.20M358.55 39.50L375.76 57.20M364.47 39.50L381.68 57.20M370.39 39.50L387.60 57.20M376.31 39.50L391.60 55.22M382.23 39.50L391.60 49.13M388.15 39.50L391.60 43.04" stroke="#000" stroke-width="1.3" fill="none"/>
<rect x="355.40" y="39.50" width="36.20" height="17.70" fill="none" stroke="#000" stroke-width="0.95"/>
<text x="396.3" y="53.50" style="font-size:16.6px">Lipid yield (g/L)</text>
<rect x="355.40" y="59.60" width="36.20" height="17.70" fill="#fff"/>
<path d="M355.40 60.47L356.27 59.60M355.40 70.17L365.97 59.60M357.97 77.30L375.67 59.60M367.67 77.30L385.37 59.60M377.37 77.30L391.60 63.07M387.07 77.30L391.60 72.77" stroke="#000" stroke-width="1.12" fill="none"/>
<rect x="355.40" y="59.60" width="36.20" height="17.70" fill="none" stroke="#000" stroke-width="0.95"/>
<text x="396.3" y="73.60" style="font-size:16.6px">Lipidless biomass (g/L)</text>
<text x="1.0" y="20.7" style="font-size:22px">(A)</text>
</g>
<g id="panelB">
<path d="M164.86 790.02L218.86 743.81M226.67 737.93L279.93 702.92M287.59 696.88L341.89 645.88M349.37 639.57L402.99 598.99M411.79 595.78L463.45 593.09M473.20 593.46L524.92 600.21" stroke="#555" stroke-width="1.0" fill="none"/>
<path d="M161.14 790.00V796.41M157.54 790.00H164.74M157.54 796.41H164.74" stroke="#555" stroke-width="0.95" fill="none"/>
<path d="M222.58 735.82V745.44M218.98 735.82H226.18M218.98 745.44H226.18" stroke="#555" stroke-width="0.95" fill="none"/>
<path d="M284.02 693.02V707.44M280.42 693.02H287.62M280.42 707.44H287.62" stroke="#555" stroke-width="0.95" fill="none"/>
<path d="M345.46 631.30V653.74M341.86 631.30H349.06M341.86 653.74H349.06" stroke="#555" stroke-width="0.95" fill="none"/>
<path d="M406.90 583.53V608.54M403.30 583.53H410.50M403.30 608.54H410.50" stroke="#555" stroke-width="0.95" fill="none"/>
<path d="M468.34 580.01V605.65M464.74 580.01H471.94M464.74 605.65H471.94" stroke="#555" stroke-width="0.95" fill="none"/>
<path d="M529.78 588.02V613.67M526.18 588.02H533.38M526.18 613.67H533.38" stroke="#555" stroke-width="0.95" fill="none"/>
<circle cx="161.14" cy="793.21" r="4.35" fill="#555"/>
<circle cx="222.58" cy="740.63" r="4.35" fill="#555"/>
<circle cx="284.02" cy="700.23" r="4.35" fill="#555"/>
<circle cx="345.46" cy="642.52" r="4.35" fill="#555"/>
<circle cx="406.90" cy="596.04" r="4.35" fill="#555"/>
<circle cx="468.34" cy="592.83" r="4.35" fill="#555"/>
<circle cx="529.78" cy="600.85" r="4.35" fill="#555"/>
<path d="M164.98 771.36L218.74 712.46M226.73 704.34L279.87 654.44M287.91 646.37L341.57 588.98M350.74 582.68L401.62 562.11M412.55 559.19L462.69 552.25M474.01 552.03L524.11 557.00" stroke="#000" stroke-width="1.0" fill="none"/>
<path d="M161.14 772.37V778.78M157.54 772.37H164.74M157.54 778.78H164.74" stroke="#000" stroke-width="0.95" fill="none"/>
<path d="M222.58 701.83V714.66M218.98 701.83H226.18M218.98 714.66H226.18" stroke="#000" stroke-width="0.95" fill="none"/>
<path d="M284.02 640.92V660.16M280.42 640.92H287.62M280.42 660.16H287.62" stroke="#000" stroke-width="0.95" fill="none"/>
<path d="M345.46 571.99V597.64M341.86 571.99H349.06M341.86 597.64H349.06" stroke="#000" stroke-width="0.95" fill="none"/>
<path d="M406.90 545.54V574.40M403.30 545.54H410.50M403.30 574.40H410.50" stroke="#000" stroke-width="0.95" fill="none"/>
<path d="M468.34 537.05V565.90M464.74 537.05H471.94M464.74 565.90H471.94" stroke="#000" stroke-width="0.95" fill="none"/>
<path d="M529.78 543.14V571.99M526.18 543.14H533.38M526.18 571.99H533.38" stroke="#000" stroke-width="0.95" fill="none"/>
<rect x="157.14" y="771.57" width="8" height="8" fill="#000"/>
<rect x="218.58" y="704.25" width="8" height="8" fill="#000"/>
<rect x="280.02" y="646.54" width="8" height="8" fill="#000"/>
<rect x="341.46" y="580.82" width="8" height="8" fill="#000"/>
<rect x="402.90" y="555.97" width="8" height="8" fill="#000"/>
<rect x="464.34" y="547.47" width="8" height="8" fill="#000"/>
<rect x="525.78" y="553.56" width="8" height="8" fill="#000"/>
<path d="M163.98 787.61L219.74 709.04M226.11 701.64L280.49 649.13M287.34 642.13L342.14 582.80M349.83 576.98L402.53 550.17M411.77 547.44L463.47 542.04M473.23 541.79L524.89 544.48" stroke="#000" stroke-width="1.0" fill="none"/>
<path d="M161.14 788.40V794.81M157.54 788.40H164.74M157.54 794.81H164.74" stroke="#000" stroke-width="0.95" fill="none"/>
<path d="M222.58 697.83V712.25M218.98 697.83H226.18M218.98 712.25H226.18" stroke="#000" stroke-width="0.95" fill="none"/>
<path d="M284.02 636.11V655.35M280.42 636.11H287.62M280.42 655.35H287.62" stroke="#000" stroke-width="0.95" fill="none"/>
<path d="M345.46 566.38V592.03M341.86 566.38H349.06M341.86 592.03H349.06" stroke="#000" stroke-width="0.95" fill="none"/>
<path d="M406.90 533.52V562.37M403.30 533.52H410.50M403.30 562.37H410.50" stroke="#000" stroke-width="0.95" fill="none"/>
<path d="M468.34 526.31V556.76M464.74 526.31H471.94M464.74 556.76H471.94" stroke="#000" stroke-width="0.95" fill="none"/>
<path d="M529.78 529.51V559.97M526.18 529.51H533.38M526.18 559.97H533.38" stroke="#000" stroke-width="0.95" fill="none"/>
<circle cx="161.14" cy="791.60" r="4.35" fill="#000"/>
<circle cx="222.58" cy="705.04" r="4.35" fill="#000"/>
<circle cx="284.02" cy="645.73" r="4.35" fill="#000"/>
<circle cx="345.46" cy="579.20" r="4.35" fill="#000"/>
<circle cx="406.90" cy="547.95" r="4.35" fill="#000"/>
<circle cx="468.34" cy="541.53" r="4.35" fill="#000"/>
<circle cx="529.78" cy="544.74" r="4.35" fill="#000"/>
<path d="M163.86 787.96L219.86 739.46M224.42 734.01L282.18 636.80M286.35 630.97L343.13 564.31M348.58 559.78L403.78 528.10M410.41 525.53L464.83 513.46M471.94 512.87L526.18 515.70" stroke="#000" stroke-width="1.0" fill="none"/>
<path d="M161.14 787.11V793.53M157.54 787.11H164.74M157.54 793.53H164.74" stroke="#000" stroke-width="0.95" fill="none"/>
<path d="M222.58 731.49V742.71M218.98 731.49H226.18M218.98 742.71H226.18" stroke="#000" stroke-width="0.95" fill="none"/>
<path d="M284.02 623.29V644.13M280.42 623.29H287.62M280.42 644.13H287.62" stroke="#000" stroke-width="0.95" fill="none"/>
<path d="M345.46 547.14V576.00M341.86 547.14H349.06M341.86 576.00H349.06" stroke="#000" stroke-width="0.95" fill="none"/>
<path d="M406.90 511.08V541.53M403.30 511.08H410.50M403.30 541.53H410.50" stroke="#000" stroke-width="0.95" fill="none"/>
<path d="M468.34 496.17V529.19M464.74 496.17H471.94M464.74 529.19H471.94" stroke="#000" stroke-width="0.95" fill="none"/>
<path d="M529.78 499.38V532.40M526.18 499.38H533.38M526.18 532.40H533.38" stroke="#000" stroke-width="0.95" fill="none"/>
<path d="M161.14 784.82L166.44 793.42H155.84Z" fill="#000"/>
<path d="M222.58 731.60L227.88 740.20H217.28Z" fill="#000"/>
<path d="M284.02 628.21L289.32 636.81H278.72Z" fill="#000"/>
<path d="M345.46 556.07L350.76 564.67H340.16Z" fill="#000"/>
<path d="M406.90 520.81L412.20 529.41H401.60Z" fill="#000"/>
<path d="M468.34 507.18L473.64 515.78H463.04Z" fill="#000"/>
<path d="M529.78 510.39L535.08 518.99H524.48Z" fill="#000"/>
<path d="M163.88 788.94L219.84 741.04M225.56 736.68L281.04 699.05M286.10 694.09L343.38 613.40M348.55 608.61L403.81 575.45M410.26 572.30L464.98 551.17M471.93 550.13L526.19 554.10" stroke="#000" stroke-width="1.0" fill="none"/>
<path d="M161.14 788.08V794.49M157.54 788.08H164.74M157.54 794.49H164.74" stroke="#000" stroke-width="0.95" fill="none"/>
<path d="M222.58 733.89V743.51M218.98 733.89H226.18M218.98 743.51H226.18" stroke="#000" stroke-width="0.95" fill="none"/>
<path d="M284.02 689.81V704.24M280.42 689.81H287.62M280.42 704.24H287.62" stroke="#000" stroke-width="0.95" fill="none"/>
<path d="M345.46 599.24V621.68M341.86 599.24H349.06M341.86 621.68H349.06" stroke="#000" stroke-width="0.95" fill="none"/>
<path d="M406.90 559.97V587.22M403.30 559.97H410.50M403.30 587.22H410.50" stroke="#000" stroke-width="0.95" fill="none"/>
<path d="M468.34 535.44V564.30M464.74 535.44H471.94M464.74 564.30H471.94" stroke="#000" stroke-width="0.95" fill="none"/>
<path d="M529.78 539.93V568.78M526.18 539.93H533.38M526.18 568.78H533.38" stroke="#000" stroke-width="0.95" fill="none"/>
<path d="M161.14 796.78L166.44 788.18H155.84Z" fill="#000"/>
<path d="M222.58 744.20L227.88 735.60H217.28Z" fill="#000"/>
<path d="M284.02 702.52L289.32 693.92H278.72Z" fill="#000"/>
<path d="M345.46 615.96L350.76 607.36H340.16Z" fill="#000"/>
<path d="M406.90 579.09L412.20 570.49H401.60Z" fill="#000"/>
<path d="M468.34 555.37L473.64 546.77H463.04Z" fill="#000"/>
<path d="M529.78 559.86L535.08 551.26H524.48Z" fill="#000"/>
<path d="M165.08 787.88L218.64 741.62M226.85 735.25L279.75 698.39M287.66 691.71L341.82 636.61M349.10 629.20L403.26 574.10M411.70 568.38L463.54 546.74M473.54 544.90L524.58 546.50" stroke="#000" stroke-width="1.0" fill="none"/>
<path d="M161.14 788.08V794.49M157.54 788.08H164.74M157.54 794.49H164.74" stroke="#000" stroke-width="0.95" fill="none"/>
<path d="M222.58 733.41V743.03M218.98 733.41H226.18M218.98 743.03H226.18" stroke="#000" stroke-width="0.95" fill="none"/>
<path d="M284.02 687.41V703.44M280.42 687.41H287.62M280.42 703.44H287.62" stroke="#000" stroke-width="0.95" fill="none"/>
<path d="M345.46 622.49V643.32M341.86 622.49H349.06M341.86 643.32H349.06" stroke="#000" stroke-width="0.95" fill="none"/>
<path d="M406.90 556.76V584.01M403.30 556.76H410.50M403.30 584.01H410.50" stroke="#000" stroke-width="0.95" fill="none"/>
<path d="M468.34 530.31V559.17M464.74 530.31H471.94M464.74 559.17H471.94" stroke="#000" stroke-width="0.95" fill="none"/>
<path d="M529.78 532.24V561.09M526.18 532.24H533.38M526.18 561.09H533.38" stroke="#000" stroke-width="0.95" fill="none"/>
<path d="M161.14 785.98L166.44 791.28L161.14 796.58L155.84 791.28Z" fill="#000"/>
<path d="M222.58 732.92L227.88 738.22L222.58 743.52L217.28 738.22Z" fill="#000"/>
<path d="M284.02 690.12L289.32 695.42L284.02 700.72L278.72 695.42Z" fill="#000"/>
<path d="M345.46 627.61L350.76 632.90L345.46 638.20L340.16 632.90Z" fill="#000"/>
<path d="M406.90 565.09L412.20 570.39L406.90 575.69L401.60 570.39Z" fill="#000"/>
<path d="M468.34 539.44L473.64 544.74L468.34 550.04L463.04 544.74Z" fill="#000"/>
<path d="M529.78 541.36L535.08 546.66L529.78 551.96L524.48 546.66Z" fill="#000"/>
<path d="M164.32 788.06L219.40 740.49M226.06 735.39L280.54 698.58M287.06 693.33L342.42 640.61M348.77 635.13L403.59 592.21M410.38 587.27L464.86 550.30M472.54 548.08L525.58 549.74" stroke="#000" stroke-width="1.0" fill="none"/>
<path d="M161.14 787.59V794.01M157.54 787.59H164.74M157.54 794.01H164.74" stroke="#000" stroke-width="0.95" fill="none"/>
<path d="M222.58 732.93V742.55M218.98 732.93H226.18M218.98 742.55H226.18" stroke="#000" stroke-width="0.95" fill="none"/>
<path d="M284.02 689.01V703.44M280.42 689.01H287.62M280.42 703.44H287.62" stroke="#000" stroke-width="0.95" fill="none"/>
<path d="M345.46 627.29V648.13M341.86 627.29H349.06M341.86 648.13H349.06" stroke="#000" stroke-width="0.95" fill="none"/>
<path d="M406.90 576.80V602.45M403.30 576.80H410.50M403.30 602.45H410.50" stroke="#000" stroke-width="0.95" fill="none"/>
<path d="M468.34 533.52V562.37M464.74 533.52H471.94M464.74 562.37H471.94" stroke="#000" stroke-width="0.95" fill="none"/>
<path d="M529.78 535.44V564.30M526.18 535.44H533.38M526.18 564.30H533.38" stroke="#000" stroke-width="0.95" fill="none"/>
<path d="M161.14 785.90L162.29 789.22L165.80 789.29L162.99 791.40L164.02 794.76L161.14 792.75L158.26 794.76L159.29 791.40L156.48 789.29L159.99 789.22Z" fill="#000"/>
<path d="M222.58 732.84L223.73 736.16L227.24 736.23L224.43 738.34L225.46 741.71L222.58 739.69L219.70 741.71L220.73 738.34L217.92 736.23L221.43 736.16Z" fill="#000"/>
<path d="M284.02 691.32L285.17 694.65L288.68 694.71L285.87 696.83L286.90 700.19L284.02 698.17L281.14 700.19L282.17 696.83L279.36 694.71L282.87 694.65Z" fill="#000"/>
<path d="M345.46 632.81L346.61 636.14L350.12 636.20L347.31 638.32L348.34 641.68L345.46 639.66L342.58 641.68L343.61 638.32L340.80 636.20L344.31 636.14Z" fill="#000"/>
<path d="M406.90 584.72L408.05 588.05L411.56 588.11L408.75 590.23L409.78 593.59L406.90 591.57L404.02 593.59L405.05 590.23L402.24 588.11L405.75 588.05Z" fill="#000"/>
<path d="M468.34 543.05L469.49 546.37L473.00 546.43L470.19 548.55L471.22 551.91L468.34 549.90L465.46 551.91L466.49 548.55L463.68 546.43L467.19 546.37Z" fill="#000"/>
<path d="M529.78 544.97L530.93 548.29L534.44 548.36L531.63 550.47L532.66 553.83L529.78 551.82L526.90 553.83L527.93 550.47L525.12 548.36L528.63 548.29Z" fill="#000"/>
<path d="M125.30 463.84V818.00" stroke="#000" stroke-width="1.5"/>
<path d="M124.55 817.25H561.25" stroke="#000" stroke-width="1.5"/>
<path d="M125.30 817.25h6.8M125.30 785.19h6.8M125.30 753.13h6.8M125.30 721.07h6.8M125.30 689.01h6.8M125.30 656.95h6.8M125.30 624.89h6.8M125.30 592.83h6.8M125.30 560.77h6.8M125.30 528.71h6.8M125.30 496.65h6.8M125.30 464.59h6.8M125.30 801.22h3.6M125.30 769.16h3.6M125.30 737.10h3.6M125.30 705.04h3.6M125.30 672.98h3.6M125.30 640.92h3.6M125.30 608.86h3.6M125.30 576.80h3.6M125.30 544.74h3.6M125.30 512.68h3.6M125.30 480.62h3.6M150.90 817.25v-6.8M202.10 817.25v-6.8M253.30 817.25v-6.8M304.50 817.25v-6.8M355.70 817.25v-6.8M406.90 817.25v-6.8M458.10 817.25v-6.8M509.30 817.25v-6.8M560.50 817.25v-6.8M176.50 817.25v-3.6M227.70 817.25v-3.6M278.90 817.25v-3.6M330.10 817.25v-3.6M381.30 817.25v-3.6M432.50 817.25v-3.6M483.70 817.25v-3.6M534.90 817.25v-3.6" stroke="#000" stroke-width="1.5" fill="none"/>
<text x="117.6" y="822.20" text-anchor="end">2</text>
<text x="117.6" y="790.14" text-anchor="end">4</text>
<text x="117.6" y="758.08" text-anchor="end">6</text>
<text x="117.6" y="726.02" text-anchor="end">8</text>
<text x="117.6" y="693.96" text-anchor="end">10</text>
<text x="117.6" y="661.90" text-anchor="end">12</text>
<text x="117.6" y="629.84" text-anchor="end">14</text>
<text x="117.6" y="597.78" text-anchor="end">16</text>
<text x="117.6" y="565.72" text-anchor="end">18</text>
<text x="117.6" y="533.66" text-anchor="end">20</text>
<text x="117.6" y="501.60" text-anchor="end">22</text>
<text x="117.6" y="469.54" text-anchor="end">24</text>
<text x="150.90" y="836.4" text-anchor="middle">10</text>
<text x="202.10" y="836.4" text-anchor="middle">20</text>
<text x="253.30" y="836.4" text-anchor="middle">30</text>
<text x="304.50" y="836.4" text-anchor="middle">40</text>
<text x="355.70" y="836.4" text-anchor="middle">50</text>
<text x="406.90" y="836.4" text-anchor="middle">60</text>
<text x="458.10" y="836.4" text-anchor="middle">70</text>
<text x="509.30" y="836.4" text-anchor="middle">80</text>
<text x="560.50" y="836.4" text-anchor="middle">90</text>
<text transform="translate(94.20 640.40) rotate(-90)" text-anchor="middle" style="font-size:16.7px">Lipid content (%)</text>
<text x="343.5" y="857.0" text-anchor="middle" style="font-size:16.6px">Time (h)</text>
<text x="3.8" y="463.7" style="font-size:22.6px">(B)</text>
<path d="M408.80 725.40H422.30M432.10 725.40H445.80" stroke="#555" stroke-width="1.0"/>
<circle cx="427.20" cy="725.40" r="4.35" fill="#555"/>
<text x="450.40" y="730.70">control</text>
<path d="M408.80 745.80H421.50M432.90 745.80H445.80" stroke="#000" stroke-width="1.0"/>
<rect x="423.20" y="741.80" width="8" height="8" fill="#000"/>
<text x="450.40" y="751.10">0 h</text>
<path d="M483.00 745.80H496.50M506.30 745.80H520.00" stroke="#000" stroke-width="1.0"/>
<circle cx="501.40" cy="745.80" r="4.35" fill="#000"/>
<text x="524.60" y="751.10">12 h</text>
<path d="M408.80 766.50H423.60M430.80 766.50H445.80" stroke="#000" stroke-width="1.0"/>
<path d="M427.20 761.00L432.50 769.60H421.90Z" fill="#000"/>
<text x="450.40" y="771.80">24 h</text>
<path d="M483.00 766.50H497.80M505.00 766.50H520.00" stroke="#000" stroke-width="1.0"/>
<path d="M501.40 772.00L506.70 763.40H496.10Z" fill="#000"/>
<text x="524.60" y="771.80">36 h</text>
<path d="M408.80 786.90H422.00M432.40 786.90H445.80" stroke="#000" stroke-width="1.0"/>
<path d="M427.20 781.60L432.50 786.90L427.20 792.20L421.90 786.90Z" fill="#000"/>
<text x="450.40" y="792.20">48 h</text>
<path d="M483.00 786.90H497.20M505.60 786.90H520.00" stroke="#000" stroke-width="1.0"/>
<path d="M501.40 782.00L502.55 785.32L506.06 785.39L503.25 787.50L504.28 790.86L501.40 788.85L498.52 790.86L499.55 787.50L496.74 785.39L500.25 785.32Z" fill="#000"/>
<text x="524.60" y="792.20">60 h</text>
</g>
</svg>
</body></html>
